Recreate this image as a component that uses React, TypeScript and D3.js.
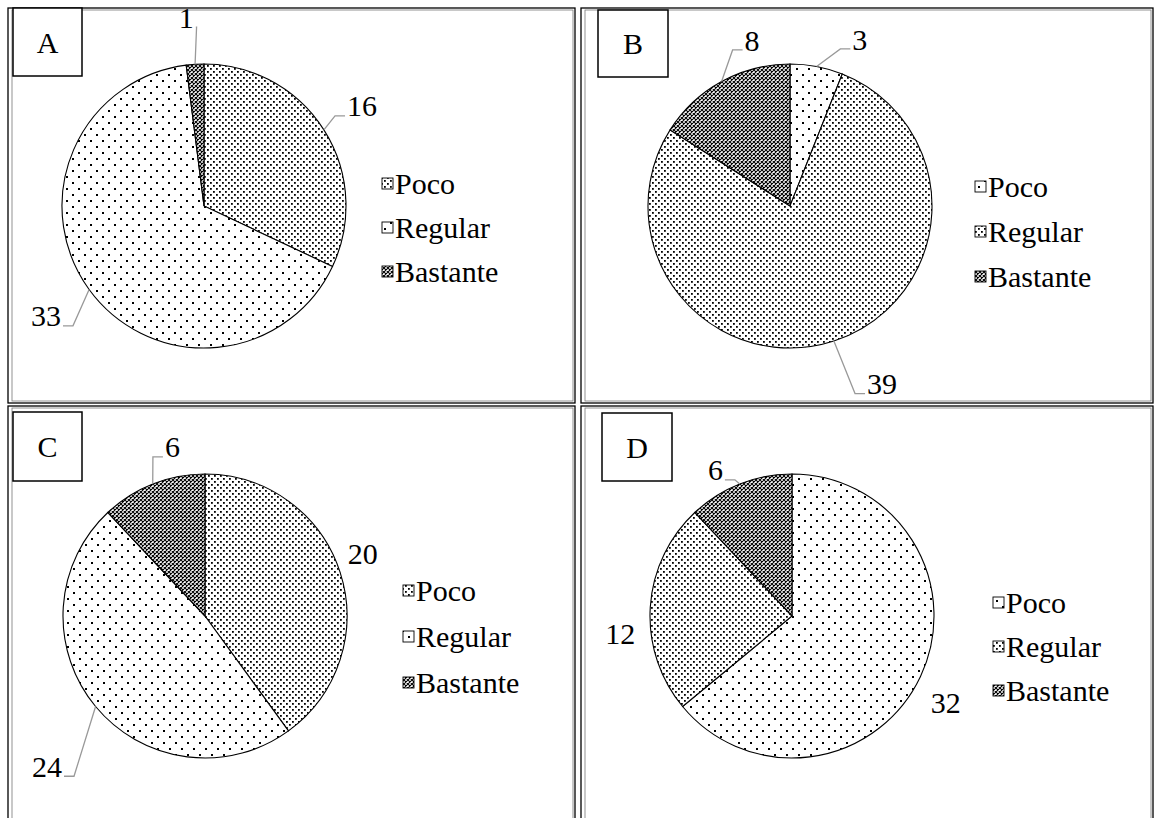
import React from 'react';
import * as d3 from 'd3';

const categories = ['Poco', 'Regular', 'Bastante'];
const panelLetters = ['A', 'B', 'C', 'D'];
const valuesA = [16, 33, 1];
const valuesB = [3, 39, 8];
const valuesC = [20, 24, 6];
const valuesD = [32, 12, 6];
const allValues = [valuesA, valuesB, valuesC, valuesD];
const patternsA = ['dense', 'sparse', 'cross'];
const patternsB = ['sparse', 'dense', 'cross'];
const patternsC = ['dense', 'sparse', 'cross'];
const patternsD = ['sparse', 'dense', 'cross'];
const allPatterns = [patternsA, patternsB, patternsC, patternsD];

// layout only
const FONT = "'Liberation Serif', 'Times New Roman', Tinos, 'DejaVu Serif', serif";
const FS = 30;
const layouts = [
  {
    rect: [8, 8, 567, 395], box: [13, 8, 69, 68], c: [204, 206], r: 142,
    legend: [382, 183, 44],
    nudges: [[14.5, -9], [-20.5, 10], [-7, -19]], leaders: [true, true, true],
  },
  {
    rect: [581, 8, 572, 395], box: [598, 10, 70, 67], c: [790, 206], r: 142,
    legend: [975, 186, 45],
    nudges: [[38, 0], [39.5, 16], [44, -17]], leaders: [true, true, true],
  },
  {
    rect: [8, 406, 567, 420], box: [13, 412, 69, 69], c: [205, 616], r: 142,
    legend: [403, 590, 46],
    nudges: [[-4, -10], [-27, 42], [30, -11]], leaders: [false, true, true],
  },
  {
    rect: [581, 406, 572, 420], box: [602, 413, 70, 68], c: [792, 616], r: 142,
    legend: [993, 602, 44],
    nudges: [[0, 14], [-2, 28], [-14, 12]], leaders: [false, false, true],
  },
];

const LR = 170;
const textStyle = { fontFamily: FONT, fontSize: FS };

function Panel({ idx }: { idx: number }) {
  const L = layouts[idx];
  const vals = allValues[idx];
  const pats = allPatterns[idx];
  const pie = d3.pie<number>().sort(null).value((d) => d).startAngle(0).endAngle(2 * Math.PI);
  const arcs = pie(vals);
  const arc = d3.arc<d3.PieArcDatum<number>>().innerRadius(0).outerRadius(L.r);
  const [cx, cy] = L.c;
  const [rx, ry, rw, rh] = L.rect;
  const [bx, by, bw, bh] = L.box;
  return (
    <g>
      <rect x={rx} y={ry} width={rw} height={rh} fill="none" stroke="#000" strokeWidth={1.3} />
      <rect x={rx + 4} y={ry + 2} width={rw - 6} height={rh - 4} fill="none" stroke="#777" strokeWidth={0.8} />
      <rect x={bx} y={by} width={bw} height={bh} fill="#fff" stroke="#000" strokeWidth={1.5} />
      <text x={bx + bw / 2} y={by + bh / 2} dy="0.35em" textAnchor="middle" style={textStyle}>
        {panelLetters[idx]}
      </text>
      <g transform={`translate(${cx},${cy})`}>
        {arcs.map((a, i) => (
          <path key={i} d={arc(a) || ''} fill={`url(#${pats[i]})`} stroke="#000" strokeWidth={1.1} />
        ))}
      </g>
      {arcs.map((a, i) => {
        const mid = (a.startAngle + a.endAngle) / 2;
        const lx = cx + LR * Math.sin(mid) + L.nudges[i][0];
        const ly = cy - LR * Math.cos(mid) + L.nudges[i][1];
        const txt = String(vals[i]);
        const w = txt.length * FS * 0.5;
        let leader = null;
        if (L.leaders[i]) {
          const ex = cx + L.r * Math.sin(mid);
          const ey = cy - L.r * Math.cos(mid);
          const side = ex > lx ? 1 : -1;
          const p2x = lx + side * (w / 2 + 2);
          const p2y = ly + FS * 0.33;
          const p1x = p2x + side * Math.min(10, Math.abs(ex - p2x));
          leader = (
            <polyline
              points={`${ex},${ey} ${p1x},${p2y} ${p2x},${p2y}`}
              fill="none"
              stroke="#999"
              strokeWidth={1.3}
            />
          );
        }
        return (
          <g key={'l' + i}>
            {leader}
            <text x={lx} y={ly} dy="0.35em" textAnchor="middle" style={textStyle}>
              {txt}
            </text>
          </g>
        );
      })}
      {categories.map((cat, i) => {
        const [lgx, lgy, step] = L.legend;
        const y = lgy + i * step;
        return (
          <g key={'g' + i}>
            <rect x={lgx} y={y - 5} width={11} height={11} fill={`url(#${pats[i]})`} stroke="#000" strokeWidth={0.9} />
            <text x={lgx + 13} y={y} dy="0.35em" style={textStyle}>
              {cat}
            </text>
          </g>
        );
      })}
    </g>
  );
}

export default function App() {
  return (
    <div style={{ position: 'absolute', left: 0, top: 0 }}>
      <svg width={1155} height={818} style={{ display: 'block', background: '#fff' }}>
        <defs>
          <pattern id="dense" width={6} height={6} patternUnits="userSpaceOnUse">
            <rect width={6} height={6} fill="#fff" />
            <rect x={0} y={0} width={1.8} height={1.8} fill="#000" />
            <rect x={3} y={3} width={1.8} height={1.8} fill="#000" />
          </pattern>
          <pattern id="sparse" width={12} height={12} patternUnits="userSpaceOnUse">
            <rect width={12} height={12} fill="#fff" />
            <rect x={0} y={0} width={2} height={2} fill="#000" />
            <rect x={6} y={6} width={2} height={2} fill="#000" />
          </pattern>
          <pattern id="cross" width={4} height={4} patternUnits="userSpaceOnUse">
            <rect width={4} height={4} fill="#fff" />
            <path d="M-1,-1 L5,5 M5,-1 L-1,5" stroke="#000" strokeWidth={1.05} />
          </pattern>
        </defs>
        {[0, 1, 2, 3].map((i) => (
          <Panel key={i} idx={i} />
        ))}
      </svg>
    </div>
  );
}
